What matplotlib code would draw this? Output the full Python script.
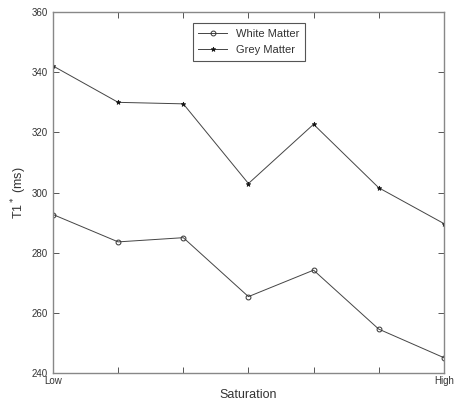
import matplotlib
matplotlib.use("Agg")
import matplotlib.pyplot as plt

levels = [1, 2, 3, 4, 5, 6, 7]
tick_labels = ["Low", "", "", "", "", "", "High"]
white_matter = [292.7, 283.6, 285.0, 265.4, 274.2, 254.6, 245.1]
grey_matter = [342.1, 330.0, 329.5, 303.0, 322.7, 301.6, 289.7]

plt.rcParams['font.family'] = ['Liberation Sans', 'DejaVu Sans']

fig = plt.figure(figsize=(4.59, 4.04), dpi=100)
ax = fig.add_axes([0.1155, 0.0767, 0.8515, 0.8933])

line_col = "#444444"
ax.plot(levels, white_matter, color=line_col, lw=0.7, marker='o', ms=3.5,
        mfc='none', mec='#333333', mew=0.7, label="White Matter")
ax.plot(levels, grey_matter, color=line_col, lw=0.7, marker='*', ms=3.5,
        mfc='#111111', mec='#111111', mew=0.5, label="Grey Matter")

ax.set_xlim(1, 7)
ax.set_ylim(240, 360)
ax.set_xticks(levels)
ax.set_xticklabels(tick_labels)
ax.set_yticks(range(240, 361, 20))
ax.tick_params(direction='in', length=4, width=0.7, colors='#555555',
               labelcolor='#333333', labelsize=7, top=True, right=True)
ax.tick_params(axis='x', pad=2)
for s in ax.spines.values():
    s.set_color('#888888')
    s.set_linewidth(1.0)

ax.set_xlabel("Saturation", fontsize=9, color='#333333', labelpad=2)
ax.set_ylabel("T1$^*$ (ms)", fontsize=9, color='#333333', labelpad=2)

leg = ax.legend(loc='upper center', bbox_to_anchor=(0.501, 0.985), fontsize=8,
                fancybox=False, framealpha=1, edgecolor='#555555',
                handlelength=2.6, borderpad=0.5, labelspacing=0.6)
leg.get_frame().set_linewidth(0.8)
for t in leg.get_texts():
    t.set_color('#333333')

fig.savefig("out.png", dpi=100)
